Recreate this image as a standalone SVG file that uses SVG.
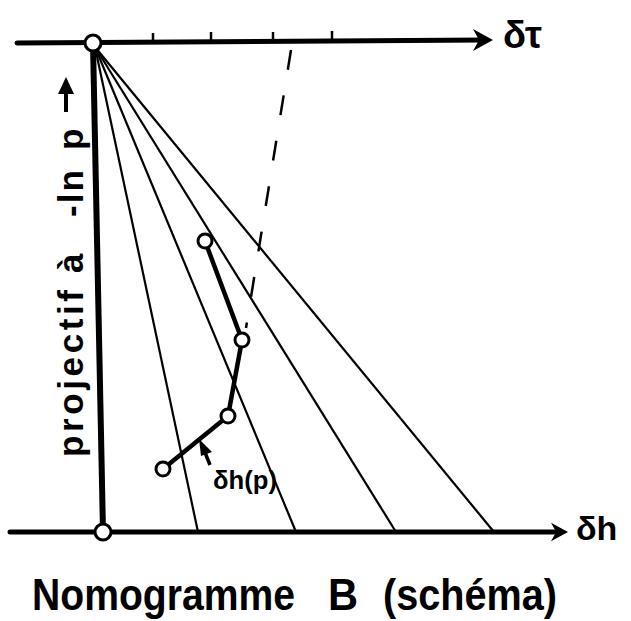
<svg xmlns="http://www.w3.org/2000/svg" width="631" height="621" viewBox="0 0 631 621">
<style>
.ax{stroke:#000;stroke-width:5;stroke-linecap:round;fill:none}
.fan{stroke:#000;stroke-width:2.2;fill:none}
.tick{stroke:#000;stroke-width:2.5;fill:none}
.dash{stroke:#000;stroke-width:2.5;stroke-dasharray:20 26;fill:none}
.poly{stroke:#000;stroke-width:4.5;fill:none;stroke-linejoin:round}
.node{fill:#fff;stroke:#000;stroke-width:3}
.lbl{font-family:"Liberation Sans","DejaVu Sans",sans-serif;font-weight:bold;fill:#000}
</style>
<defs>
<path id="ah" d="M0,0 L-20,-11 L-14,0 L-20,11 Z" fill="#000"/>
</defs>
<rect width="631" height="621" fill="#fff"/>
<g id="connectors">
<line class="ax" x1="17" y1="43" x2="485" y2="40"/>
<use href="#ah" transform="translate(493,40)"/>
<line class="ax" x1="10" y1="532" x2="558" y2="532"/>
<use href="#ah" transform="translate(568,532) scale(0.85)"/>
<line class="tick" x1="153" y1="43" x2="153" y2="33"/>
<line class="tick" x1="211" y1="42" x2="211" y2="32"/>
<line class="tick" x1="273" y1="42" x2="273" y2="32"/>
<line class="tick" x1="332" y1="41" x2="332" y2="31"/>
<line x1="93" y1="43" x2="103" y2="532" stroke="#000" stroke-width="6"/>
<line class="fan" x1="95" y1="47" x2="198" y2="532"/>
<line class="fan" x1="95" y1="47" x2="296" y2="532"/>
<line class="fan" x1="95" y1="47" x2="396" y2="532"/>
<line class="fan" x1="95" y1="47" x2="494" y2="532"/>
<line class="dash" x1="291" y1="50" x2="246" y2="328"/>
<polyline class="poly" points="205,241 242,340 228,416 163,469"/>
<line x1="210" y1="465" x2="204" y2="450" stroke="#000" stroke-width="3.5"/>
<path d="M199,439 L212,452 L201,456 Z" fill="#000"/>
</g>
<g id="origin-top"><circle class="node" cx="93" cy="43" r="8"/></g>
<g id="origin-bottom"><circle class="node" cx="103" cy="532" r="8"/></g>
<g id="p1"><circle class="node" cx="205" cy="241" r="7"/></g>
<g id="p2"><circle class="node" cx="242" cy="340" r="7"/></g>
<g id="p3"><circle class="node" cx="228" cy="416" r="7"/></g>
<g id="p4"><circle class="node" cx="163" cy="469" r="7"/></g>
<g id="labels">
<text class="lbl" x="503" y="48" font-size="38">δτ</text>
<text class="lbl" x="576" y="540" font-size="34">δh</text>
<text class="lbl" x="213" y="489" font-size="26" textLength="64" lengthAdjust="spacingAndGlyphs">δh(p)</text>
<g transform="translate(83,457) rotate(-90)">
<text class="lbl" font-size="35"><tspan x="0" textLength="167" lengthAdjust="spacing">projectif</tspan><tspan x="184">à</tspan><tspan x="240" textLength="47" lengthAdjust="spacing">-ln</tspan><tspan x="307">p</tspan></text>
</g>
<line x1="66" y1="112" x2="66" y2="90" stroke="#000" stroke-width="4"/>
<path d="M66,77 L74,94 L58,94 Z" fill="#000"/>
<text class="lbl" y="610" font-size="44"><tspan x="32" textLength="263" lengthAdjust="spacingAndGlyphs">Nomogramme</tspan><tspan x="328" textLength="30" lengthAdjust="spacingAndGlyphs">B</tspan><tspan x="383" textLength="174" lengthAdjust="spacingAndGlyphs">(schéma)</tspan></text>
</g>
</svg>
